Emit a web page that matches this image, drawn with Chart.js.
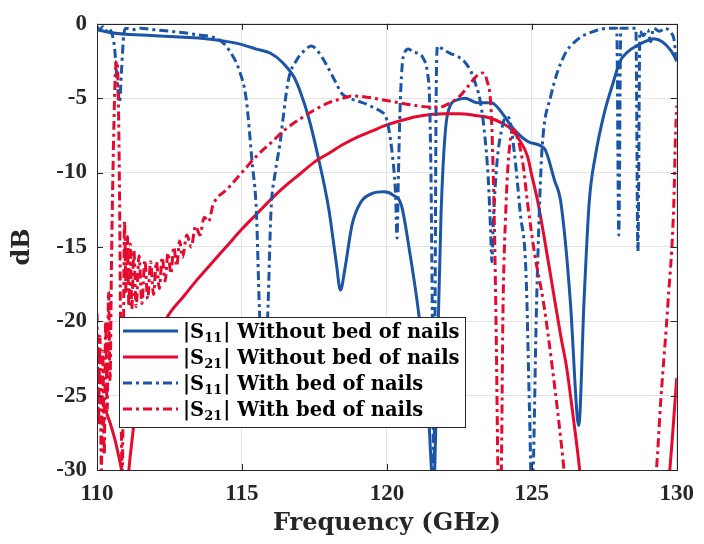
<!DOCTYPE html>
<html>
<head>
<meta charset="utf-8">
<script src="https://cdn.jsdelivr.net/npm/chart.js@4.4.1/dist/chart.umd.min.js"></script>
<style>
  html, body { margin: 0; padding: 0; background: #fff; }
  #wrap { width: 704px; height: 544px; }
</style>
</head>
<body>
<div id="wrap"><canvas id="sparamChart" width="704" height="544"></canvas></div>
<script>
// |S11| without bed of nails
const s11NoFreq = [110.0,110.5,111.0,111.5,112.0,112.5,113.0,113.5,114.0,114.5,115.0,115.5,116.0,116.4,116.8,117.0,117.3,117.6,118.0,118.25,118.4,118.55,118.8,119.1,119.5,119.9,120.2,120.5,120.8,121.1,121.4,121.6,121.65,121.75,121.87,122.1,122.45,122.7,123.1,123.6,124.05,124.3,124.85,125.3,125.47,125.78,126.0,126.33,126.57,126.62,126.8,126.98,127.2,127.5,127.8,128.05,128.3,128.6,128.9,129.2,129.5,129.8,130.0];
const s11NoDb   = [-0.4,-0.6,-0.7,-0.75,-0.8,-0.85,-0.9,-0.95,-1.05,-1.2,-1.4,-1.7,-2.0,-2.6,-3.6,-4.5,-6.3,-8.7,-12.5,-16.0,-17.9,-16.5,-13.5,-12.0,-11.4,-11.3,-11.5,-12.2,-15.5,-19.5,-25,-31,-30,-22,-12.7,-6.0,-5.1,-5.0,-5.3,-5.3,-6.2,-6.9,-7.9,-8.2,-8.5,-10.5,-12,-18.7,-26.5,-27,-18.7,-12,-8.8,-6.0,-4.0,-2.5,-1.9,-1.5,-1.2,-1.0,-1.2,-1.8,-2.5];

// |S21| without bed of nails
const s21NoFreq = [110.0,110.3,110.6,110.85,111.0,111.15,111.4,111.8,112.4,113.0,113.5,114.0,114.5,115.0,115.5,116.0,116.5,117.0,117.5,118.0,118.5,119.0,119.5,120.0,120.5,121.0,121.5,122.0,122.5,123.0,123.5,124.0,124.3,124.6,124.85,125.0,125.2,125.5,125.8,126.0,126.2,126.4,126.64,126.8,129.6,129.76,130.0];
const s21NoDb   = [-24.8,-26,-27.8,-30,-31.5,-29,-25,-22.5,-19.8,-18.3,-17.1,-16.0,-14.9,-13.8,-12.8,-11.8,-10.9,-10.1,-9.3,-8.7,-8.1,-7.6,-7.2,-6.8,-6.5,-6.25,-6.1,-6.05,-6.05,-6.15,-6.3,-6.7,-7.1,-7.9,-8.9,-10.2,-11.9,-15.2,-18.7,-21,-23.1,-26,-29.8,-33,-33,-30,-23.8];

// |S11| with bed of nails
const s11BedFreq = [110.0,110.1,110.2,110.3,110.4,110.5,110.6,110.7,110.78,110.85,110.92,111.0,111.2,111.5,112.0,112.5,113.0,113.5,114.0,114.3,114.6,114.9,115.15,115.35,115.5,115.6,115.75,115.9,116.0,116.15,116.3,116.6,116.9,117.1,117.4,117.6,117.9,118.2,118.45,118.7,119.0,119.3,119.6,119.8,119.95,120.05,120.2,120.3,120.35,120.4,120.45,120.52,120.6,120.75,120.9,121.1,121.25,121.4,121.47,121.52,121.57,121.62,121.66,121.7,121.75,121.85,122.0,122.2,122.45,122.7,122.9,123.05,123.2,123.35,123.5,123.58,123.62,123.68,123.8,123.95,124.1,124.2,124.4,124.6,124.8,124.92,125.0,125.05,125.15,125.27,125.36,125.65,126.1,126.55,127.15,127.7,127.93,128.0,128.07,128.3,128.59,128.66,128.73,128.85,129.0,129.1,129.2,129.4,129.6,129.8,129.9,130.0];
const s11BedDb   = [-0.2,-0.4,-0.2,-0.5,-0.3,-0.6,-1.5,-4,-5.2,-3,-0.8,-0.3,-0.4,-0.3,-0.4,-0.5,-0.6,-0.75,-0.9,-1.2,-1.9,-3.1,-5.1,-9.3,-12.7,-19,-25,-19,-12.7,-10,-8.2,-3.8,-2.4,-1.9,-1.5,-1.8,-2.7,-3.8,-4.7,-5.0,-5.2,-5.4,-5.7,-5.9,-6.2,-6.9,-9,-11.5,-14.4,-10,-6,-3,-2,-1.7,-1.9,-2.0,-2.3,-3.3,-5,-10,-20,-31,-20,-5,-1.5,-1.6,-1.8,-2.0,-2.2,-2.6,-3.2,-4.0,-5.0,-7.0,-10.5,-14,-16,-13,-9.3,-7.2,-6.3,-6.3,-8.7,-12.7,-16.8,-26,-32,-30,-20,-12,-8.2,-4.9,-2.2,-1.1,-0.5,-0.3,-0.3,-14.2,-0.3,-0.3,-0.3,-15.3,-0.5,-0.8,-0.4,-1.2,-0.3,-0.5,-0.3,-0.6,-1.0,-2.7];

// |S21| with bed of nails
const s21BedFreq = [110.0,110.05,110.1,110.15,110.2,110.25,110.3,110.35,110.4,110.45,110.5,110.55,110.62,110.68,110.72,110.78,110.83,110.87,110.9,110.95,111.0,111.05,111.1,111.15,111.2,111.27,111.35,111.45,111.55,111.65,111.75,111.85,111.95,112.05,112.15,112.25,112.35,112.45,112.55,112.65,112.75,112.85,112.95,113.1,113.25,113.4,113.55,113.7,113.85,114.0,114.5,115.0,115.5,116.0,116.5,117.0,117.5,118.0,118.5,118.8,119.2,119.8,120.4,121.0,121.5,121.8,122.2,122.5,122.8,123.1,123.3,123.45,123.6,123.7,123.78,123.83,123.87,123.95,124.0,124.1,124.2,124.35,124.5,124.7,124.85,125.1,125.4,125.7,126.1,126.2,129.2,129.3,129.45,129.7,129.9,129.95,130.0];
const s21BedDb   = [-19.5,-27,-21,-30,-22,-29,-20,-26,-18,-24,-16,-10,-4,-2.5,-3.5,-12,-25,-31,-25,-13.3,-18,-14.3,-19,-14.8,-19.2,-15.2,-19,-15.6,-18.8,-15.9,-18.5,-16,-18.2,-16,-17.8,-15.7,-17.3,-15.4,-16.8,-15,-16.3,-14.6,-15.7,-14.2,-15,-13.6,-14.2,-13,-13.3,-12.2,-11.1,-10.0,-8.9,-8.0,-7.1,-6.4,-5.8,-5.3,-5.0,-4.85,-4.9,-5.1,-5.3,-5.5,-5.6,-5.6,-5.3,-4.9,-4.2,-3.5,-3.3,-3.8,-6,-12.7,-22,-30,-33,-30,-20,-12.7,-9,-7.1,-7.6,-9.5,-12,-15.5,-18.7,-23,-29.8,-32,-32,-30,-25.3,-18.7,-12,-8,-5.5];

const xTicks = [110, 115, 120, 125, 130];
const yTicks = [0, -5, -10, -15, -20, -25, -30];

const blue = '#1b55a7';
const red = '#e60a2e';
const dashDot = [9, 4, 3, 4];

const legendRows = [
  { sub: '11', rest: '| Without bed of nails', color: blue, dash: [] },
  { sub: '21', rest: '| Without bed of nails', color: red, dash: [] },
  { sub: '11', rest: '| With bed of nails', color: blue, dash: dashDot },
  { sub: '21', rest: '| With bed of nails', color: red, dash: dashDot },
];

function pts(xs, ys){ return xs.map((x, i) => ({ x: x, y: ys[i] })); }

const tickFont = '"Liberation Serif", serif';
const wideSerif = '"DejaVu Serif", "Liberation Serif", serif';

// inward ticks on all four sides plus the axes box
const boxTicks = {
  id: 'boxTicks',
  afterDatasetsDraw(chart){
    const { ctx, chartArea: a, scales: { x, y } } = chart;
    ctx.save();
    ctx.strokeStyle = '#262626';
    ctx.lineWidth = 1;
    ctx.beginPath();
    xTicks.forEach(v => {
      const px = Math.round(x.getPixelForValue(v)) + 0.5;
      ctx.moveTo(px, a.bottom); ctx.lineTo(px, a.bottom - 6);
      ctx.moveTo(px, a.top); ctx.lineTo(px, a.top + 6);
    });
    yTicks.forEach(v => {
      const py = Math.round(y.getPixelForValue(v)) + 0.5;
      ctx.moveTo(a.left, py); ctx.lineTo(a.left + 6, py);
      ctx.moveTo(a.right, py); ctx.lineTo(a.right - 6, py);
    });
    ctx.stroke();
    ctx.strokeRect(Math.round(a.left) + 0.5, Math.round(a.top) + 0.5, Math.round(a.right - a.left), Math.round(a.bottom - a.top));
    ctx.restore();
  }
};

// boxed legend inside the plot, lower left
const boxLegend = {
  id: 'boxLegend',
  afterDraw(chart){
    const { ctx } = chart;
    const bx = 119, by = 317, bw = 346, bh = 110;
    ctx.save();
    ctx.fillStyle = '#fff';
    ctx.fillRect(bx, by, bw, bh);
    ctx.strokeStyle = '#262626';
    ctx.lineWidth = 1;
    ctx.strokeRect(bx + 0.5, by + 0.5, bw, bh);
    legendRows.forEach((r, i) => {
      const cy = 331 + i * 26;
      ctx.strokeStyle = r.color;
      ctx.lineWidth = 3;
      ctx.setLineDash(r.dash);
      ctx.beginPath();
      ctx.moveTo(123, cy); ctx.lineTo(178, cy);
      ctx.stroke();
      ctx.setLineDash([]);
      ctx.fillStyle = '#000';
      ctx.textBaseline = 'alphabetic';
      const base = cy + 7;
      let tx = 183;
      ctx.font = 'bold 19.5px ' + wideSerif;
      ctx.fillText('|S', tx, base);
      tx += ctx.measureText('|S').width;
      ctx.font = 'bold 13px ' + wideSerif;
      ctx.fillText(r.sub, tx, base + 4);
      tx += ctx.measureText(r.sub).width + 1;
      ctx.font = 'bold 19.5px ' + wideSerif;
      ctx.fillText(r.rest, tx, base);
    });
    ctx.restore();
  }
};

const ctx = document.getElementById('sparamChart').getContext('2d');
const common = { borderWidth: 3, pointRadius: 0, fill: false, cubicInterpolationMode: 'monotone' };

new Chart(ctx, {
  type: 'line',
  data: {
    datasets: [
      { ...common, label: '|S11| Without bed of nails', data: pts(s11NoFreq, s11NoDb), borderColor: blue, order: 4 },
      { ...common, label: '|S21| Without bed of nails', data: pts(s21NoFreq, s21NoDb), borderColor: red, order: 3 },
      { ...common, label: '|S11| With bed of nails', data: pts(s11BedFreq, s11BedDb), borderColor: blue, borderDash: dashDot, order: 2 },
      { ...common, label: '|S21| With bed of nails', data: pts(s21BedFreq, s21BedDb), borderColor: red, borderDash: dashDot, order: 1 },
    ]
  },
  options: {
    responsive: false,
    animation: false,
    layout: { padding: { top: 20, right: 24, left: 0, bottom: 0 } },
    plugins: { legend: { display: false }, tooltip: { enabled: false } },
    scales: {
      x: {
        type: 'linear', min: 110, max: 130,
        afterBuildTicks: s => { s.ticks = xTicks.map(v => ({ value: v })); },
        afterFit: s => { s.height = 74; },
        grid: { color: '#e3e3e3', drawTicks: false },
        border: { display: false },
        ticks: { padding: 10, color: '#262626', font: { family: tickFont, size: 23, weight: 'bold' } },
        title: { display: true, text: 'Frequency (GHz)', color: '#262626', padding: { top: 0, bottom: 6 }, font: { family: wideSerif, size: 24, weight: 'bold' } }
      },
      y: {
        min: -30, max: 0,
        afterBuildTicks: s => { s.ticks = yTicks.map(v => ({ value: v })); },
        afterFit: s => { s.width = 97; },
        grid: { color: '#e3e3e3', drawTicks: false },
        border: { display: false },
        ticks: { padding: 10, color: '#262626', font: { family: tickFont, size: 23, weight: 'bold' } },
        title: { display: true, text: 'dB', color: '#262626', padding: { top: 8, bottom: 0 }, font: { family: wideSerif, size: 24, weight: 'bold' } }
      }
    }
  },
  plugins: [boxTicks, boxLegend]
});
</script>
</body>
</html>
